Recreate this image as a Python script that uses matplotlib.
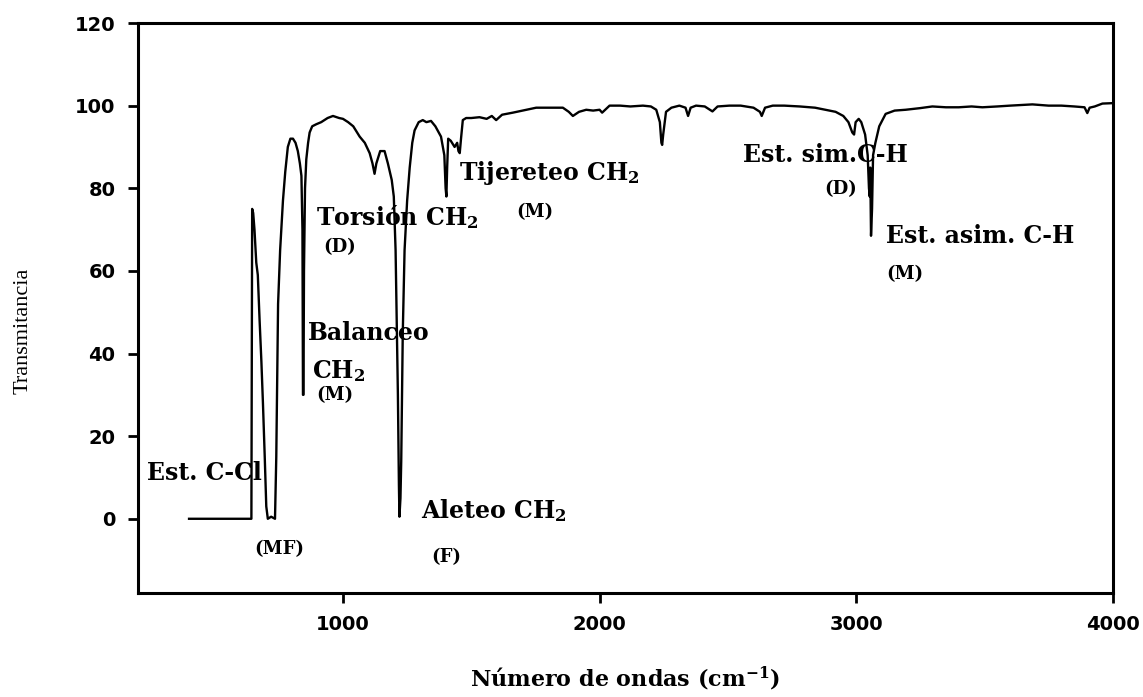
import matplotlib
matplotlib.use("Agg")
import matplotlib.pyplot as plt

# IR spectrum (cm-1, % transmittance)
wavenumber = [400, 643, 646, 650, 655, 662, 668, 675, 682, 688, 695, 701, 707, 720, 735,
              740, 744, 747, 755, 766, 775, 785, 795, 805, 815, 824, 832, 838, 842, 844,
              846, 848, 852, 857, 864, 870, 880, 896, 915, 940, 961, 985, 1000, 1020, 1040,
              1065, 1085, 1104, 1115, 1123, 1130, 1145, 1162, 1175, 1190, 1198, 1205, 1210,
              1214, 1218, 1220, 1224, 1227, 1233, 1240, 1250, 1260, 1270, 1279, 1295, 1311,
              1325, 1343, 1360, 1382, 1395, 1400, 1403, 1406, 1410, 1420, 1435, 1445, 1450,
              1455, 1460, 1467, 1480, 1500, 1532, 1560, 1580, 1597, 1620, 1662, 1700, 1753,
              1800, 1857, 1880, 1896, 1920, 1948, 1975, 2000, 2010, 2039, 2080, 2120, 2169,
              2200, 2221, 2235, 2241, 2244, 2248, 2259, 2280, 2311, 2335, 2345, 2355, 2376,
              2410, 2440, 2460, 2506, 2550, 2600, 2625, 2632, 2645, 2675, 2720, 2780, 2840,
              2880, 2920, 2950, 2970, 2985, 2992, 2998, 3010, 3020, 3035, 3045, 3050, 3053,
              3055, 3058, 3062, 3066, 3075, 3090, 3115, 3150, 3193, 3250, 3297, 3350, 3400,
              3450, 3492, 3550, 3600, 3687, 3750, 3800, 3850, 3890, 3901, 3910, 3930, 3960,
              3993, 4000]
transmittance = [0, 0, 75, 74, 70, 62, 59, 48, 38, 28, 15, 3, 0, 0.5, 0,
                 15, 35, 52, 65, 77, 84, 90, 92, 92, 91, 89, 86, 83, 70, 30,
                 30, 60, 80, 87, 91, 93.5, 95, 95.5, 96, 97, 97.5, 97, 96.8, 96, 95,
                 92.5, 91, 88.5, 86, 83.5, 86, 89, 89, 86, 82, 78, 65, 45,
                 30, 8, 0.5, 5, 14, 45, 65, 77, 85, 91, 94, 96, 96.5,
                 96, 96.3, 95, 92.5, 88, 80, 78, 85, 92, 91.5, 90, 91, 89,
                 88.5, 92, 96.5, 97, 97, 97.2, 96.8, 97.5, 96.5, 97.8, 98.3, 98.8, 99.5,
                 99.5, 99.5, 98.5, 97.5, 98.5, 99, 98.8, 99, 98.3, 100, 100, 99.8, 100,
                 99.8, 99, 96, 91, 90.5, 93, 98.5, 99.5, 100, 99.5, 97.5, 99.5, 100,
                 99.8, 98.6, 99.8, 100, 100, 99.5, 98.5, 97.5, 99.5, 100, 100, 99.8, 99.5,
                 99, 98.5, 97.5, 96, 93.5, 93, 96, 96.8, 96, 93, 88, 80, 78,
                 85, 68.5, 75, 88, 91, 95, 98, 98.8, 99, 99.4, 99.8, 99.6, 99.6,
                 99.8, 99.6, 99.8, 100, 100.3, 100, 100, 99.8, 99.6, 98.2, 99.5, 99.8, 100.5,
                 100.6, 100.6]

# band labels
labels = ["Est. C-Cl", "(MF)", "Torsión CH$_2$", "(D)", "Balanceo", "CH$_2$", "(M)",
          "Aleteo CH$_2$", "(F)", "Tijereteo CH$_2$", "(M)", "Est. sim.C-H", "(D)",
          "Est. asim. C-H", "(M)"]
label_x = [235, 656, 896, 922, 863, 880, 896, 1305, 1344, 1454, 1675, 2558, 2876, 3117, 3117]
label_y = [9.3, -8.6, 71.1, 64.5, 43.2, 34.0, 28.7, 0.1, -10.5, 82, 73, 86.3, 78.6, 66.7, 58]
label_big = [True, False, True, False, True, True, False, True, False, True, False,
             True, False, True, False]

plt.rcParams["mathtext.fontset"] = "custom"
plt.rcParams["mathtext.rm"] = "DejaVu Serif:bold"
plt.rcParams["mathtext.it"] = "DejaVu Serif:bold"
plt.rcParams["mathtext.bf"] = "DejaVu Serif:bold"

fig = plt.figure(figsize=(11.43, 6.97), dpi=100)
ax = fig.add_axes([0.1205, 0.149, 0.853, 0.818])

ax.plot(wavenumber, transmittance, color="black", lw=1.7)

for txt, x, y, big in zip(labels, label_x, label_y, label_big):
    ax.text(x, y, txt, ha="left", va="baseline", family="DejaVu Serif",
            fontweight="bold", fontsize=17 if big else 13)

ax.set_xlim(200, 4000)
ax.set_ylim(-18, 120)
ax.set_xticks([1000, 2000, 3000, 4000])
ax.set_yticks([0, 20, 40, 60, 80, 100, 120])
for s in ax.spines.values():
    s.set_linewidth(2.2)
ax.tick_params(direction="out", length=7, width=2, labelsize=14, pad=9)
for lab in ax.get_xticklabels() + ax.get_yticklabels():
    lab.set_family("DejaVu Sans")
    lab.set_fontweight("bold")

ax.set_xlabel("Número de ondas (cm$^{-1}$)", family="DejaVu Serif", fontweight="bold",
              fontsize=16)
ax.xaxis.set_label_coords(0.5, -0.125)
ax.set_ylabel("Transmitancia", family="Liberation Serif", fontsize=16)
ax.yaxis.set_label_coords(-0.108, 0.46)

fig.savefig("out.png", dpi=100)
